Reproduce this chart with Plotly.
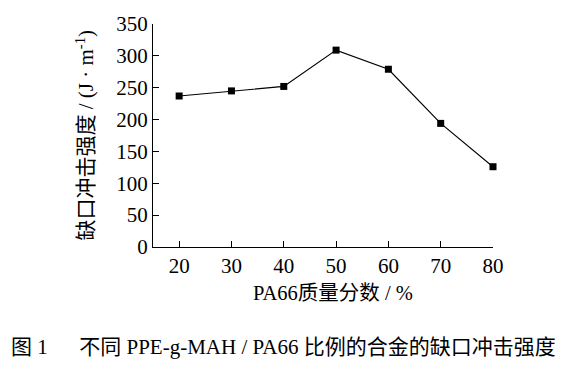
import plotly.graph_objects as go

pa66_fraction = [20, 30, 40, 50, 60, 70, 80]
impact_strength = [237, 245, 252, 309, 279, 194, 126]
x_ticks = [20, 30, 40, 50, 60, 70, 80]
y_ticks = [0, 50, 100, 150, 200, 250, 300, 350]

serif = "Liberation Serif, Times New Roman, Noto Sans CJK SC, serif"

fig = go.Figure()
fig.add_trace(go.Scatter(
    x=pa66_fraction, y=impact_strength, mode="lines+markers",
    line=dict(color="black", width=1.2),
    marker=dict(symbol="square", size=7, color="black"),
    showlegend=False, cliponaxis=False,
))

fig.update_layout(
    width=568, height=374,
    margin=dict(l=153, r=75, t=12, b=127),
    paper_bgcolor="white", plot_bgcolor="white",
    font=dict(family=serif, size=21, color="black"),
    xaxis=dict(
        range=[15, 80], tickvals=x_ticks, ticks="inside", ticklen=6,
        tickcolor="black", showline=True, linecolor="black", linewidth=1,
        showgrid=False, zeroline=False, tickfont=dict(size=21),
    ),
    yaxis=dict(
        range=[0, 350], tickvals=y_ticks, ticks="inside", ticklen=6,
        tickcolor="black", showline=True, linecolor="black", linewidth=1,
        showgrid=False, zeroline=False, tickfont=dict(size=21),
    ),
    annotations=[
        dict(text="PA66质量分数 / %", xref="paper", yref="paper",
             x=0.53, y=-0.205, xanchor="center", yanchor="middle",
             showarrow=False, font=dict(size=20.5)),
        dict(text="缺口冲击强度 / (J · m<sup>-1</sup>)", xref="paper", yref="paper",
             x=-0.2, y=0.5, xanchor="center", yanchor="middle", textangle=-90,
             showarrow=False, font=dict(size=21)),
        dict(text="图 1      不同 PPE-g-MAH / PA66 比例的合金的缺口冲击强度",
             xref="paper", yref="paper", x=0.385, y=-0.45,
             xanchor="center", yanchor="middle", showarrow=False,
             font=dict(size=21)),
    ],
)

fig.write_html("out.html", config={"displayModeBar": False},
               post_script="document.body.style.margin='0';")
